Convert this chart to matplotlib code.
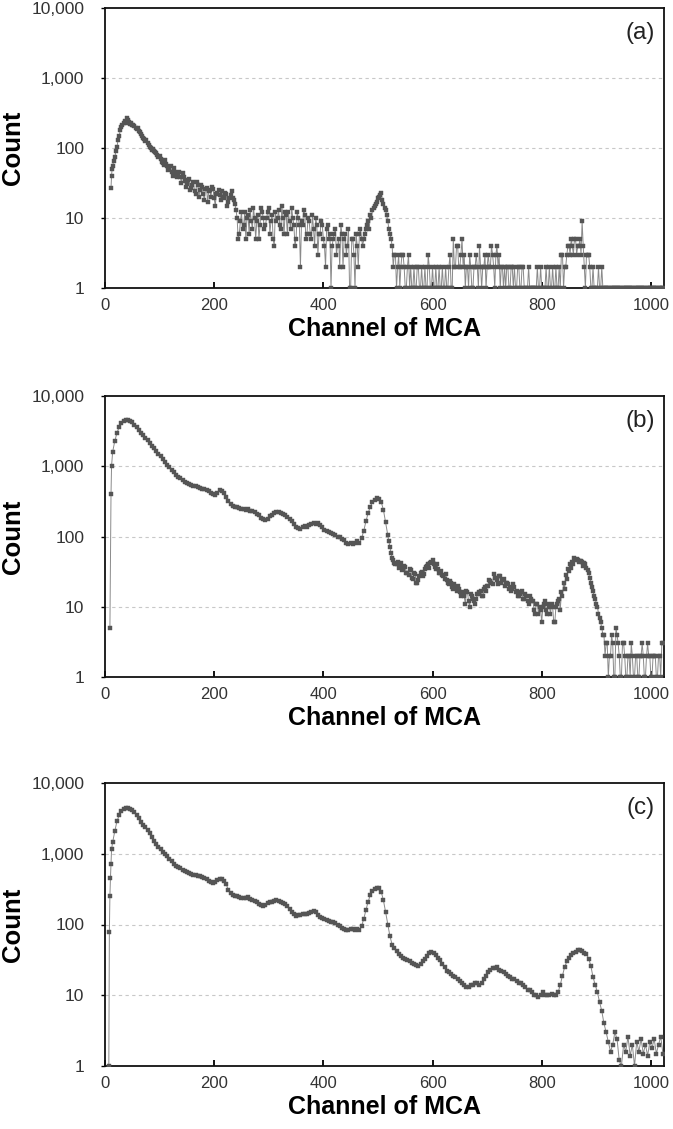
import numpy as np
import matplotlib
matplotlib.use("Agg")
import matplotlib.pyplot as plt
from matplotlib.ticker import FixedLocator, FuncFormatter, NullLocator

# ---------------- data (counts per MCA channel) ----------------
channels = list(range(14, 1023, 4))          # main channel grid, 14..1022
channels_alt = list(range(16, 1021, 4))      # in-between channel grid, 16..1020
channels_b_alt = list(range(520, 1021, 4))   # in-between grid for noisy part of (b)

head_a_ch = [11, 12, 13]
head_a = [27, 40, 50]
counts_a = [
    56, 74, 105, 150, 200, 225, 230, 255, 220, 215,
    205, 185, 175, 160, 140, 125, 118, 105, 95, 92,
    85, 75, 70, 62, 68, 55, 50, 46, 52, 42,
    40, 38, 44, 34, 31, 36, 27, 33, 22, 30,
    25, 28, 18, 27, 24, 20, 26, 15, 23, 21,
    24, 19, 22, 17, 21, 19, 16, 10, 6, 12,
    8, 5, 11, 13, 7, 10, 9, 5, 14, 10,
    8, 12, 6, 11, 4, 9, 13, 7, 10, 12,
    6, 9, 14, 8, 5, 10, 2, 8, 11, 6,
    9, 5, 7, 10, 3, 6, 8, 4, 7, 5,
    1, 5, 7, 4, 2, 6, 5, 3, 7, 1,
    5, 1, 4, 6, 5, 5, 7, 9, 11, 13,
    15, 17, 20, 23, 16, 13, 9, 6, 4, 3,
    1, 3, 2, 3, 1, 2, 1, 1, 2, 1,
    2, 1, 1, 2, 1, 2, 1, 1, 2, 1,
    1, 2, 1, 1, 2, 1, 5, 2, 4, 2,
    5, 3, 2, 1, 2, 1, 2, 2, 4, 1,
    2, 1, 3, 2, 3, 1, 4, 3, 2, 1,
    1, 2, 1, 2, 2, 1, 2, 1, 2, 1,
    1, 1, 1, 1, 1, 1, 2, 1, 1, 1,
    2, 1, 1, 2, 1, 1, 3, 2, 3, 4,
    5, 3, 5, 4, 5, 9, 2, 3, 3, 1,
    2, 1, 1, 1, 2, 1, 1, 1, 1, 1,
    1, 1, 1, 1, 1, 1, 1, 1, 1, 1,
    1, 1, 1, 1, 1, 1, 1, 1, 1, 1,
    1, 1, 1,
]
counts_a_alt = [
    65, 90, 130, 180, 215, 240, 265, 235, 225, 210,
    195, 190, 170, 150, 135, 130, 112, 100, 98, 88,
    80, 78, 64, 58, 60, 48, 55, 40, 45, 38,
    45, 32, 38, 28, 35, 25, 30, 24, 33, 20,
    30, 22, 26, 17, 25, 28, 19, 22, 25, 18,
    20, 23, 15, 19, 24, 18, 13, 5, 9, 7,
    12, 10, 6, 9, 14, 5, 11, 8, 12, 7,
    10, 14, 9, 5, 12, 10, 8, 15, 6, 11,
    12, 7, 10, 4, 12, 8, 9, 13, 5, 10,
    6, 11, 4, 8, 6, 9, 5, 2, 8, 6,
    4, 6, 3, 5, 8, 2, 6, 4, 1, 5,
    3, 6, 2, 7, 4, 6, 8, 7, 10, 14,
    16, 19, 21, 18, 14, 11, 7, 5, 2, 3,
    2, 1, 3, 2, 1, 3, 2, 1, 1, 2,
    1, 2, 1, 1, 3, 1, 2, 1, 1, 2,
    1, 1, 2, 1, 3, 1, 2, 4, 2, 3,
    2, 1, 2, 3, 1, 2, 3, 1, 2, 2,
    3, 2, 2, 4, 2, 3, 2, 1, 2, 2,
    2, 1, 2, 1, 1, 2, 1, 2, 1, 1,
    2, 1, 1, 1, 2, 1, 1, 1, 2, 1,
    1, 2, 1, 1, 2, 3, 1, 2, 4, 3,
    4, 5, 3, 4, 3, 4, 1, 3, 2, 1,
    1, 1, 2, 1, 1, 1, 1, 1, 1, 1,
    1, 1, 1, 1, 1, 1, 1, 1, 1, 1,
    1, 1, 1, 1, 1, 1, 1, 1, 1, 1,
    1, 1,
]

head_b_ch = [9, 11, 12]
head_b = [5, 400, 1000]
counts_b = [
    1600, 2300, 3000, 3600, 4100, 4400, 4550, 4550, 4450, 4200,
    3900, 3600, 3300, 3000, 2750, 2550, 2350, 2150, 1950, 1800,
    1650, 1500, 1380, 1270, 1150, 1050, 960, 880, 820, 760,
    710, 670, 630, 600, 580, 560, 545, 530, 515, 505,
    495, 480, 470, 455, 440, 420, 400, 395, 420, 460,
    450, 420, 370, 320, 290, 270, 265, 260, 255, 250,
    248, 240, 245, 232, 228, 222, 210, 200, 185, 178,
    172, 180, 195, 205, 215, 222, 225, 218, 212, 200,
    190, 178, 165, 150, 138, 130, 128, 135, 140, 138,
    145, 150, 155, 150, 158, 145, 135, 125, 118, 115,
    112, 110, 105, 100, 98, 92, 88, 82, 78, 80,
    78, 82, 85, 80, 95, 120, 165, 215, 265, 310,
    335, 350, 345, 310, 240, 160, 105, 70, 50, 42,
    40, 36, 42, 34, 37, 30, 34, 26, 30, 22,
    24, 30, 27, 34, 38, 36, 44, 40, 35, 34,
    30, 28, 25, 24, 21, 22, 18, 19, 20, 16,
    16, 14, 17, 12, 15, 13, 11, 15, 16, 14,
    18, 17, 20, 23, 21, 26, 24, 27, 22, 25,
    22, 21, 19, 18, 19, 17, 14, 16, 13, 15,
    12, 14, 12, 9, 11, 8, 9, 10, 12, 8,
    10, 11, 6, 10, 12, 9, 14, 18, 25, 32,
    36, 40, 46, 47, 45, 44, 42, 36, 30, 22,
    17, 13, 10, 7, 5, 4, 3, 1, 2, 3,
    1, 4, 2, 1, 3, 1, 2, 1, 2, 1,
    2, 1, 2, 2, 1, 3, 2, 1, 2, 1,
    2, 1, 3,
]
counts_b_alt = [
    85, 58, 46, 40, 43, 37, 33, 38, 30, 28,
    33, 25, 29, 22, 27, 31, 29, 37, 40, 42,
    46, 37, 41, 30, 32, 27, 29, 22, 23, 19,
    21, 17, 18, 14, 15, 11, 16, 10, 14, 12,
    13, 15, 17, 14, 19, 20, 24, 22, 29, 26,
    21, 27, 24, 20, 22, 18, 17, 21, 16, 14,
    15, 17, 13, 14, 11, 13, 12, 8, 11, 10,
    6, 11, 9, 11, 8, 10, 6, 11, 13, 16,
    22, 28, 34, 40, 44, 50, 48, 43, 45, 38,
    40, 33, 26, 19, 14, 11, 8, 6, 4, 2,
    3, 2, 4, 1, 5, 3, 1, 3, 2, 1,
    2, 3, 1, 2, 1, 2, 3, 1, 2, 2,
    1, 2, 2, 1, 2, 3,
]

head_c_ch = [7, 8, 9, 10, 11, 12]
head_c = [1, 78, 255, 455, 720, 1150]
counts_c = [
    1450, 2100, 2900, 3500, 4000, 4300, 4450, 4450, 4350, 4150,
    3850, 3500, 3150, 2850, 2550, 2350, 2200, 1950, 1700, 1500,
    1380, 1260, 1150, 1060, 990, 920, 850, 780, 720, 680,
    650, 620, 590, 565, 545, 530, 515, 505, 495, 490,
    485, 475, 460, 440, 415, 395, 390, 400, 430, 445,
    440, 415, 370, 310, 275, 262, 255, 250, 245, 240,
    238, 235, 242, 232, 225, 215, 205, 195, 188, 185,
    190, 200, 205, 208, 212, 220, 215, 205, 200, 195,
    180, 165, 150, 140, 132, 135, 138, 140, 142, 140,
    145, 150, 155, 148, 138, 128, 122, 118, 115, 112,
    110, 108, 104, 100, 96, 90, 86, 84, 83, 85,
    85, 84, 86, 84, 95, 120, 160, 210, 260, 300,
    320, 330, 325, 290, 220, 150, 100, 68, 52, 46,
    42, 38, 36, 34, 33, 32, 30, 29, 28, 27,
    26, 28, 30, 33, 36, 39, 41, 40, 37, 34,
    31, 28, 25, 22, 21, 20, 19, 18, 17, 16,
    15, 14, 13, 13, 14, 14, 15, 15, 14, 15,
    17, 19, 21, 23, 24, 24, 25, 23, 22, 21,
    20, 19, 18, 17, 17, 16, 15, 15, 14, 13,
    12, 12, 11, 10, 10, 9.5, 10, 11, 10, 10,
    10, 10.5, 10, 10, 11, 14, 19, 25, 30, 34,
    37, 39, 41, 43, 43, 42, 40, 38, 33, 26,
    18, 14, 11, 8, 6, 4, 3, 2.2, 1.6, 2,
    3, 2.4, 1.2, 1, 2, 1.6, 2.6, 1.4, 2, 1,
    2.2, 1.6, 2.4, 1.5, 2, 1.4, 2.2, 1.8, 2.4, 1.5,
    2, 2.6, 1.5,
]

panel_labels = ["(a)", "(b)", "(c)"]
x_ticks = [0, 200, 400, 600, 800, 1000]
y_ticks = [1, 10, 100, 1000, 10000]
x_label = "Channel of MCA"
y_label = "Count"


def merged(*pairs):
    xs = np.concatenate([np.asarray(p[0], float) for p in pairs])
    ys = np.concatenate([np.asarray(p[1], float) for p in pairs])
    order = np.argsort(xs, kind="stable")
    return xs[order], ys[order]


series = [
    merged((head_a_ch, head_a), (channels, counts_a), (channels_alt, counts_a_alt)),
    merged((head_b_ch, head_b), (channels, counts_b), (channels_b_alt, counts_b_alt)),
    merged((head_c_ch, head_c), (channels, counts_c)),
]
marker_sizes = [2.3, 2.6, 3.0]

# ---------------- figure ----------------
plt.rcParams["font.family"] = ["Liberation Sans", "DejaVu Sans"]
W, H = 673, 1129
fig = plt.figure(figsize=(W / 100, H / 100), dpi=100)

boxes = [(8, 288), (396, 677), (783, 1066)]   # top, bottom pixel of each axes
left_px, right_px = 105, 664

for i, (top, bot) in enumerate(boxes):
    ax = fig.add_axes([left_px / W, 1 - bot / H, (right_px - left_px) / W, (bot - top) / H])
    x, y = series[i]
    ax.plot(x, y, color="#8a8a8a", lw=0.7, marker="s", ms=marker_sizes[i],
            mfc="#555555", mec="#555555", mew=0.3, zorder=3)
    ax.set_yscale("log")
    ax.set_ylim(1, 10000)
    ax.set_xlim(0, 1024)
    ax.yaxis.set_major_locator(FixedLocator(y_ticks))
    ax.yaxis.set_minor_locator(NullLocator())
    ax.yaxis.set_major_formatter(FuncFormatter(lambda v, p: f"{int(round(v)):,}"))
    ax.xaxis.set_major_locator(FixedLocator(x_ticks))
    for g in [10, 100, 1000]:
        ax.axhline(g, color="#c8c8c8", lw=0.8, ls=(0, (3, 3)), zorder=1)
    for s in ax.spines.values():
        s.set_linewidth(1.3)
        s.set_color("#111111")
    ax.tick_params(axis="x", direction="in", length=4, width=1.3, pad=7,
                   labelsize=12, labelcolor="#333333")
    ax.tick_params(axis="y", direction="out", length=3, width=1.0, pad=12,
                   labelsize=12.5, labelcolor="#333333")
    ax.set_xlabel(x_label, fontsize=18, fontweight="bold", va="center")
    ax.xaxis.set_label_coords(0.5, -41 / (bot - top))
    ax.set_ylabel(y_label, fontsize=18.5, fontweight="bold", va="center")
    ax.yaxis.set_label_coords(-92 / (right_px - left_px), 0.5)
    ax.text(0.984, 0.912, panel_labels[i], transform=ax.transAxes,
            ha="right", va="center", fontsize=17.5, color="#222222")

fig.savefig("out.png", dpi=100)
